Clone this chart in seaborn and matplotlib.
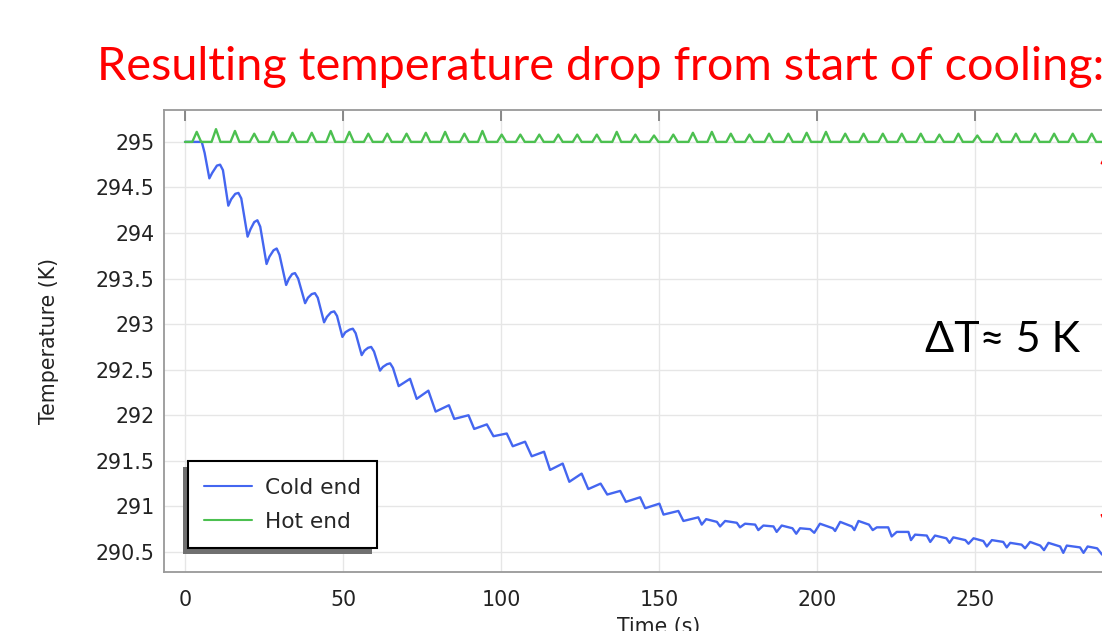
import numpy as np
import pandas as pd
import matplotlib
matplotlib.use("Agg")
import matplotlib.pyplot as plt
from matplotlib.patches import Rectangle
from matplotlib.transforms import IdentityTransform
import seaborn as sns

# ── data ────────────────────────────────────────────────────────────────────
cold_t = [0, 5.3, 6.2, 7.7, 8.6, 10.1, 11.1, 12.0, 13.7, 14.6, 15.9, 16.9,
          17.8, 19.8, 20.7, 21.9, 22.9, 23.8, 25.8, 26.7, 28.0, 29.0, 29.9,
          32.0, 32.9, 33.9, 34.8, 35.8, 38.0, 38.9, 40.1, 41.1, 42.0, 44.0,
          44.9, 46.2, 47.2, 48.1, 49.8, 50.7, 52.1, 53.1, 54.0, 55.9, 56.8,
          57.9, 58.9, 59.8, 61.7, 62.6, 63.9, 64.9, 65.8, 67.6,
          71.2, 73.3, 77.0, 79.3, 83.5, 85.2, 89.7, 91.5, 95.5, 97.6, 101.8,
          103.7, 107.6, 109.7, 113.6, 115.5, 119.5, 121.6, 125.5, 127.6, 131.5,
          133.6, 137.7, 139.5, 144.0, 145.6, 150.1, 151.4, 156.1, 157.7, 162.4,
          163.5, 164.9, 168.3, 169.3, 170.9, 174.6, 175.6, 177.2, 180.4, 181.4,
          183.0, 186.2, 187.2, 188.8, 192.2, 193.4, 194.6, 197.8, 199.1, 200.9,
          205.0, 205.7, 207.3, 211.0, 211.8, 213.1, 216.4, 217.6, 218.9, 222.5,
          223.6, 225.2, 228.9, 229.7, 231.0, 234.7, 235.8, 237.3, 240.9, 241.9,
          243.1, 246.9, 247.9, 249.5, 252.6, 253.7, 255.3, 258.9, 260.0, 261.1,
          264.7, 265.8, 267.4, 270.6, 271.8, 273.2, 276.9, 277.9, 279.0, 283.2,
          284.3, 285.6, 288.6, 290.2, 291.5, 294.8, 296.0]
cold_T = [295.00, 295.00, 294.88, 294.60, 294.66, 294.74, 294.75, 294.69,
          294.30, 294.37, 294.43, 294.44, 294.38, 293.96, 294.04, 294.12,
          294.14, 294.07, 293.66, 293.74, 293.81, 293.83, 293.76, 293.43,
          293.50, 293.55, 293.56, 293.50, 293.23, 293.29, 293.33, 293.34,
          293.29, 293.02, 293.08, 293.13, 293.14, 293.09, 292.86, 292.91,
          292.94, 292.95, 292.90, 292.66, 292.71, 292.74, 292.75, 292.70,
          292.49, 292.53, 292.56, 292.57, 292.52, 292.32,
          292.40, 292.18, 292.27, 292.04, 292.11, 291.96, 292.00, 291.85,
          291.90, 291.77, 291.80, 291.66, 291.71, 291.55, 291.60, 291.40,
          291.47, 291.27, 291.36, 291.19, 291.25, 291.13, 291.17, 291.05,
          291.10, 290.98, 291.03, 290.91, 290.95, 290.84, 290.88, 290.80,
          290.86, 290.83, 290.78, 290.84, 290.82, 290.77, 290.81, 290.80,
          290.74, 290.79, 290.78, 290.72, 290.79, 290.76, 290.70, 290.76,
          290.75, 290.71, 290.81, 290.76, 290.73, 290.83, 290.78, 290.74,
          290.84, 290.80, 290.74, 290.77, 290.77, 290.67, 290.72, 290.72,
          290.63, 290.69, 290.68, 290.61, 290.68, 290.65, 290.60, 290.66,
          290.63, 290.59, 290.65, 290.62, 290.56, 290.63, 290.61, 290.55,
          290.60, 290.58, 290.54, 290.61, 290.57, 290.52, 290.60, 290.56,
          290.49, 290.57, 290.55, 290.49, 290.56, 290.54, 290.47, 290.52,
          290.50, 290.44]

# hot end: flat at 295 K with a small bump every ~6 s
hot_peak_t = [3.7, 9.8, 15.8, 21.9, 27.9, 34.0, 40.1, 46.1, 52.0, 58.0, 64.0,
              70.1, 76.2, 82.3, 88.4, 94.1, 100.2, 106.1, 112.1, 118.1, 124.1,
              130.3, 136.6, 142.5, 148.4, 154.5, 160.7, 166.7, 172.7, 178.6,
              184.8, 190.9, 196.7, 202.8, 208.9, 214.7, 220.8, 226.8, 232.8,
              238.7, 244.7, 250.7, 256.9, 262.9, 269.0, 275.0, 280.9, 286.9,
              292.9]
hot_peak_T = [295.11, 295.14, 295.12, 295.09, 295.11, 295.10, 295.10, 295.12,
              295.11, 295.09, 295.09, 295.09, 295.10, 295.11, 295.09, 295.12,
              295.08, 295.08, 295.08, 295.08, 295.08, 295.08, 295.11, 295.08,
              295.07, 295.08, 295.10, 295.11, 295.09, 295.08, 295.09, 295.09,
              295.10, 295.11, 295.09, 295.09, 295.09, 295.09, 295.09, 295.08,
              295.09, 295.07, 295.09, 295.09, 295.09, 295.09, 295.09, 295.09,
              295.09]
hot_base_T = 295.0
hot_foot_dt = 1.4

y_ticks = [290.5, 291, 291.5, 292, 292.5, 293, 293.5, 294, 294.5, 295]
y_labels = ["290.5", "291", "291.5", "292", "292.5", "293", "293.5", "294",
            "294.5", "295"]
x_ticks = [0, 50, 100, 150, 200, 250]

title = "Resulting temperature drop from start of cooling:"
delta_text = "\u0394T\u2248 5 K"
arrow_t, arrow_top, arrow_bot = 291.6, 294.93, 290.74

# ── build frames ────────────────────────────────────────────────────────────
hot_rows = [(0.0, hot_base_T)]
for tp, Tp in zip(hot_peak_t, hot_peak_T):
    hot_rows += [(tp - hot_foot_dt, hot_base_T), (tp, Tp), (tp + hot_foot_dt, hot_base_T)]
hot = pd.DataFrame(hot_rows, columns=["t", "T"])
cold = pd.DataFrame({"t": cold_t, "T": cold_T})

sns.set_theme(style="white")
plt.rcParams.update({"font.family": ["DejaVu Sans"], "font.size": 14.8})

W, H = 1102, 631
fig = plt.figure(figsize=(W / 100, H / 100), dpi=100)
ax = fig.add_axes([164 / W, 1 - 572 / H, 990 / W, 462 / H])

sns.lineplot(data=cold, x="t", y="T", ax=ax, color="#4466f0", lw=1.7,
             label="Cold end", estimator=None, sort=False)
sns.lineplot(data=hot, x="t", y="T", ax=ax, color="#4cc050", lw=1.7,
             label="Hot end", estimator=None, sort=False)

ax.set_xlim(-6.65, 306.6)
ax.set_ylim(290.28, 295.35)
ax.set_xticks(x_ticks)
ax.set_yticks(y_ticks)
ax.set_yticklabels(y_labels)
ax.grid(True, color="#e6e6e6", lw=1)
ax.tick_params(direction="in", top=True, right=True, length=8, width=1.2,
               color="#777777", labelcolor="#222222", labelsize=14.8)
ax.tick_params(axis="x", pad=13)
ax.tick_params(axis="y", pad=7)
for s in ax.spines.values():
    s.set_color("#999999")
    s.set_linewidth(1.3)

ax.set_xlabel("Time (s)", fontsize=14.8, color="#222222")
ax.set_ylabel("Temperature (K)", fontsize=14.8, color="#222222")
ax.xaxis.set_label_coords(0.5, -0.097)
ax.yaxis.set_label_coords(-0.106, 0.5)

ax.annotate("", xy=(arrow_t, arrow_top), xytext=(arrow_t, arrow_bot),
            arrowprops=dict(arrowstyle="<|-|>", color="red", lw=1.5,
                            mutation_scale=18))

leg = ax.legend(loc="lower left", bbox_to_anchor=(0.0242, 0.052),
                borderaxespad=0, fancybox=False, frameon=True, fontsize=15.6,
                handlelength=2.2, handletextpad=0.6, borderpad=0.75,
                labelspacing=0.65, facecolor="white", framealpha=1)
leg.get_frame().set_edgecolor("black")
leg.get_frame().set_linewidth(1.5)
for line in leg.get_lines():
    line.set_linewidth(1.5)

fig.text(97 / W, 1 - 80 / H, title, color="red", fontsize=33.65,
         family=["Lato", "DejaVu Sans"], ha="left", va="baseline")
fig.text(925 / W, 1 - 352 / H, delta_text, color="black", fontsize=31,
         family=["Lato", "DejaVu Sans"], ha="left", va="baseline")

# legend shadow sits down-left of the box
fig.canvas.draw()
bb = leg.get_frame().get_window_extent()
ax.add_patch(Rectangle((bb.x0 - 5, bb.y0 - 6), bb.width, bb.height,
                       transform=IdentityTransform(), facecolor="#707070",
                       edgecolor="none", clip_on=False, zorder=leg.get_zorder() - 0.1))

fig.savefig("out.png", dpi=100)
